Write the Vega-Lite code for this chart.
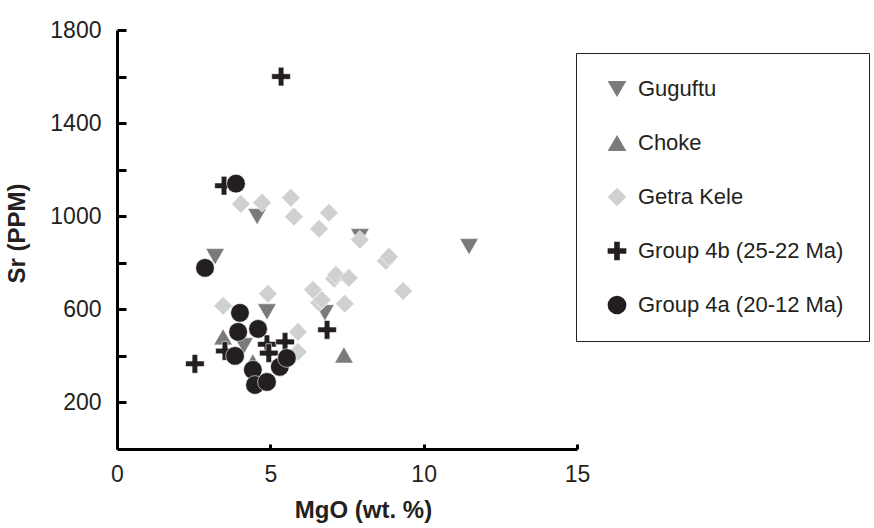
{
  "$schema": "https://vega.github.io/schema/vega-lite/v6.json",
  "autosize": {"type": "none"},
  "width": 460,
  "height": 419,
  "padding": {"left": 117, "top": 30, "right": 297, "bottom": 79},
  "background": "white",
  "config": {
    "view": {"stroke": null},
    "axis": {
      "grid": false,
      "domainColor": "#000000",
      "domainWidth": 3,
      "tickColor": "#000000",
      "tickWidth": 3,
      "labelFont": "Liberation Sans",
      "labelFontSize": 23,
      "labelColor": "#231f20",
      "titleFont": "Liberation Sans",
      "titleFontSize": 24,
      "titleFontWeight": "bold",
      "titleColor": "#231f20"
    }
  },
  "data": {
    "values": [
      {"group": "Guguftu", "mgo": 4.57, "sr": 998},
      {"group": "Guguftu", "mgo": 3.2, "sr": 826},
      {"group": "Guguftu", "mgo": 11.48, "sr": 869},
      {"group": "Guguftu", "mgo": 4.89, "sr": 589},
      {"group": "Guguftu", "mgo": 6.78, "sr": 585},
      {"group": "Guguftu", "mgo": 7.92, "sr": 912},
      {"group": "Guguftu", "mgo": 4.14, "sr": 443},
      {"group": "Choke", "mgo": 7.4, "sr": 404},
      {"group": "Choke", "mgo": 3.46, "sr": 482},
      {"group": "Choke", "mgo": 4.43, "sr": 374},
      {"group": "Getra Kele", "mgo": 4.04, "sr": 1053},
      {"group": "Getra Kele", "mgo": 4.73, "sr": 1058},
      {"group": "Getra Kele", "mgo": 5.67, "sr": 1079},
      {"group": "Getra Kele", "mgo": 5.77, "sr": 998},
      {"group": "Getra Kele", "mgo": 6.91, "sr": 1015},
      {"group": "Getra Kele", "mgo": 6.59, "sr": 946},
      {"group": "Getra Kele", "mgo": 7.92, "sr": 899},
      {"group": "Getra Kele", "mgo": 8.77, "sr": 808},
      {"group": "Getra Kele", "mgo": 8.87, "sr": 826},
      {"group": "Getra Kele", "mgo": 9.33, "sr": 679},
      {"group": "Getra Kele", "mgo": 7.08, "sr": 731},
      {"group": "Getra Kele", "mgo": 7.14, "sr": 748},
      {"group": "Getra Kele", "mgo": 7.56, "sr": 735},
      {"group": "Getra Kele", "mgo": 6.39, "sr": 684},
      {"group": "Getra Kele", "mgo": 6.59, "sr": 628},
      {"group": "Getra Kele", "mgo": 6.68, "sr": 641},
      {"group": "Getra Kele", "mgo": 7.43, "sr": 624},
      {"group": "Getra Kele", "mgo": 4.92, "sr": 667},
      {"group": "Getra Kele", "mgo": 3.46, "sr": 615},
      {"group": "Getra Kele", "mgo": 5.9, "sr": 503},
      {"group": "Getra Kele", "mgo": 5.9, "sr": 417},
      {"group": "Group 4b (25-22 Ma)", "mgo": 5.35, "sr": 1600},
      {"group": "Group 4b (25-22 Ma)", "mgo": 3.49, "sr": 1131},
      {"group": "Group 4b (25-22 Ma)", "mgo": 2.54, "sr": 366},
      {"group": "Group 4b (25-22 Ma)", "mgo": 3.52, "sr": 421},
      {"group": "Group 4b (25-22 Ma)", "mgo": 4.89, "sr": 450},
      {"group": "Group 4b (25-22 Ma)", "mgo": 4.95, "sr": 412},
      {"group": "Group 4b (25-22 Ma)", "mgo": 5.48, "sr": 460},
      {"group": "Group 4b (25-22 Ma)", "mgo": 6.85, "sr": 512},
      {"group": "Group 4a (20-12 Ma)", "mgo": 3.88, "sr": 1140},
      {"group": "Group 4a (20-12 Ma)", "mgo": 2.87, "sr": 778},
      {"group": "Group 4a (20-12 Ma)", "mgo": 4.01, "sr": 585},
      {"group": "Group 4a (20-12 Ma)", "mgo": 3.95, "sr": 503},
      {"group": "Group 4a (20-12 Ma)", "mgo": 4.6, "sr": 516},
      {"group": "Group 4a (20-12 Ma)", "mgo": 3.85, "sr": 400},
      {"group": "Group 4a (20-12 Ma)", "mgo": 4.43, "sr": 340},
      {"group": "Group 4a (20-12 Ma)", "mgo": 4.5, "sr": 275},
      {"group": "Group 4a (20-12 Ma)", "mgo": 4.89, "sr": 288},
      {"group": "Group 4a (20-12 Ma)", "mgo": 5.31, "sr": 353},
      {"group": "Group 4a (20-12 Ma)", "mgo": 5.54, "sr": 391}
    ]
  },
  "mark": {"type": "point", "filled": true, "opacity": 1, "stroke": "white", "strokeWidth": 0.6},
  "encoding": {
    "x": {
      "field": "mgo",
      "type": "quantitative",
      "title": "MgO (wt. %)",
      "scale": {"domain": [0, 15], "nice": false, "zero": true},
      "axis": {
        "values": [0, 5, 10, 15],
        "tickSize": -5,
        "labelPadding": 19,
        "labelFlush": false,
        "titleX": 246,
        "titleY": 61,
        "titleAlign": "center",
        "titleBaseline": "middle"
      }
    },
    "y": {
      "field": "sr",
      "type": "quantitative",
      "title": "Sr (PPM)",
      "scale": {"domain": [0, 1800], "nice": false},
      "axis": {
        "values": [200, 400, 600, 800, 1000, 1200, 1400, 1600, 1800],
        "labelExpr": "datum.value % 400 == 200 ? datum.label : ''",
        "format": "d",
        "tickSize": -9,
        "labelPadding": 25,
        "labelFlush": false,
        "titleX": -100,
        "titleY": 203,
        "titleAngle": -90,
        "titleAlign": "center",
        "titleBaseline": "middle"
      }
    },
    "shape": {
      "field": "group",
      "type": "nominal",
      "scale": {
        "domain": ["Guguftu", "Choke", "Getra Kele", "Group 4b (25-22 Ma)", "Group 4a (20-12 Ma)"],
        "range": ["triangle-down", "triangle-up", "diamond", "M-1,-0.3H-0.3V-1H0.3V-0.3H1V0.3H0.3V1H-0.3V0.3H-1Z", "circle"]
      },
      "legend": {
        "title": null,
        "orient": "none",
        "legendX": 459,
        "legendY": 23,
        "strokeColor": "#231f20",
        "padding": 25,
        "rowPadding": 32,
        "labelFont": "Liberation Sans",
        "labelFontSize": 22,
        "labelColor": "#231f20",
        "labelOffset": 10,
        "labelLimit": 300,
        "symbolOffset": 5,
        "symbolSize": 380,
        "symbolStrokeWidth": 0
      }
    },
    "color": {
      "field": "group",
      "type": "nominal",
      "scale": {
        "domain": ["Guguftu", "Choke", "Getra Kele", "Group 4b (25-22 Ma)", "Group 4a (20-12 Ma)"],
        "range": ["#7a7a7c", "#7a7a7c", "#cfd0d2", "#231f20", "#231f20"]
      },
      "legend": {
        "title": null,
        "orient": "none",
        "legendX": 459,
        "legendY": 23,
        "strokeColor": "#231f20",
        "padding": 25,
        "rowPadding": 32,
        "labelFont": "Liberation Sans",
        "labelFontSize": 22,
        "labelColor": "#231f20",
        "labelOffset": 10,
        "labelLimit": 300,
        "symbolOffset": 5,
        "symbolSize": 380,
        "symbolStrokeWidth": 0
      }
    },
    "size": {
      "field": "group",
      "type": "nominal",
      "legend": null,
      "scale": {
        "domain": ["Guguftu", "Choke", "Getra Kele", "Group 4b (25-22 Ma)", "Group 4a (20-12 Ma)"],
        "range": [350, 350, 420, 480, 560]
      }
    }
  }
}
